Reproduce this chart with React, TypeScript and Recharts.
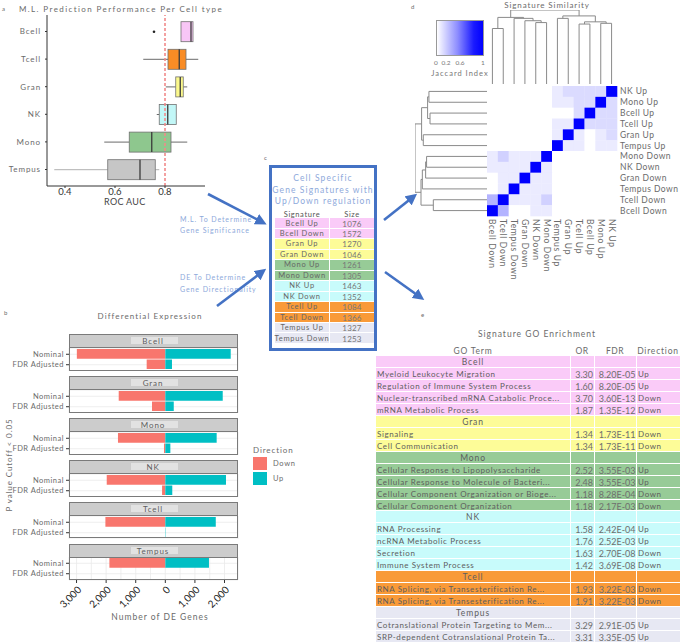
import React from "react";
import {
  ComposedChart,
  BarChart,
  Bar,
  XAxis,
  YAxis,
  CartesianGrid,
  ReferenceLine,
  ScatterChart,
  Scatter,
} from "recharts";

const FONT = "Lato, 'Noto Sans', sans-serif";
const INK = "#6b6b6b";
const BLUE = "#4472C4";
const PALE_BLUE = "#8EA9DB";

// ---------- a: ML prediction performance ----------
const aucCellTypes = ["Bcell", "Tcell", "Gran", "NK", "Mono", "Tempus"];
const aucWhiskerLow = [0.864, 0.713, 0.803, 0.767, 0.557, 0.357];
const aucQ1 = [0.864, 0.812, 0.843, 0.777, 0.657, 0.571];
const aucMedian = [0.904, 0.857, 0.861, 0.811, 0.747, 0.7];
const aucQ3 = [0.912, 0.884, 0.873, 0.845, 0.824, 0.761];
const aucWhiskerHigh = [0.912, 0.933, 0.889, 0.845, 0.889, 0.777];
const aucOutliers = [[0.756], [], [], [], [], []];
const aucBoxColors = ["#F8C6F6", "#F98C25", "#FCF98C", "#C2F7F7", "#8EC78E", "#C6C6C6"];
const aucTicks = [0.4, 0.6, 0.8];
const aucThreshold = 0.8;

// ---------- b: differential expression ----------
const deCellTypes = ["Bcell", "Gran", "Mono", "NK", "Tcell", "Tempus"];
const deCutoffs = ["Nominal", "FDR Adjusted"];
const deDownNominal = [2990, 1575, 1600, 1980, 2025, 1890];
const deUpNominal = [2210, 1940, 1735, 2050, 1705, 1475];
const deDownFdr = [630, 450, 45, 110, 0, 0];
const deUpFdr = [225, 285, 170, 235, 12, 0];
const deTicks = [-3000, -2500, -2000, -1500, -1000, -500, 0, 500, 1000, 1500, 2000];
const DOWN_COLOR = "#F8766D";
const UP_COLOR = "#00BFC4";

// ---------- c: signatures ----------
const signatures = [
  "Bcell Up", "Bcell Down", "Gran Up", "Gran Down", "Mono Up", "Mono Down",
  "NK Up", "NK Down", "Tcell Up", "Tcell Down", "Tempus Up", "Tempus Down",
];
const signatureSizes = [1076, 1572, 1270, 1046, 1261, 1305, 1463, 1352, 1084, 1366, 1327, 1253];
const tableColors: Record<string, string> = {
  Bcell: "#FACBF8",
  Gran: "#FDFC98",
  Mono: "#97CB97",
  NK: "#C8FBFB",
  Tcell: "#F99A38",
  Tempus: "#E7E8F3",
};

// ---------- d: signature similarity ----------
const heatRows = [
  "NK Up", "Mono Up", "Bcell Up", "Tcell Up", "Gran Up", "Tempus Up",
  "Mono Down", "NK Down", "Gran Down", "Tempus Down", "Tcell Down", "Bcell Down",
];
const heatCols = [
  "Bcell Down", "Tcell Down", "Tempus Down", "Gran Down", "NK Down", "Mono Down",
  "Tempus Up", "Gran Up", "Tcell Up", "Bcell Up", "Mono Up", "NK Up",
];
const jaccardPairs: [string, string, number][] = [
  ["Bcell Up", "Tcell Up", 0.14], ["Bcell Up", "Mono Up", 0.14], ["Bcell Up", "NK Up", 0.14],
  ["Gran Up", "Mono Up", 0.08], ["Gran Up", "NK Up", 0.14], ["Gran Up", "Tcell Up", 0.08],
  ["Gran Up", "Tempus Up", 0.08], ["Mono Up", "NK Up", 0.14], ["Mono Up", "Tcell Up", 0.14],
  ["Mono Up", "Tempus Up", 0.08], ["NK Up", "Tcell Up", 0.14], ["NK Up", "Tempus Up", 0.08],
  ["Tcell Up", "Tempus Up", 0.08],
  ["Bcell Down", "Tcell Down", 0.3], ["Bcell Down", "Mono Down", 0.08], ["Bcell Down", "NK Down", 0.08],
  ["Gran Down", "Mono Down", 0.08], ["Gran Down", "NK Down", 0.08], ["Gran Down", "Tcell Down", 0.08],
  ["Gran Down", "Tempus Down", 0.08], ["Mono Down", "NK Down", 0.08], ["Mono Down", "Tcell Down", 0.18],
  ["Mono Down", "Tempus Down", 0.08], ["NK Down", "Tcell Down", 0.08], ["NK Down", "Tempus Down", 0.08],
  ["Tcell Down", "Tempus Down", 0.08],
];
// dendrogram merges: children are leaf names or earlier merge ids
type Merge = { id: string; a: string; b: string; h: number };
const colMerges: Merge[] = [
  { id: "c1", a: "Bcell Down", b: "Tcell Down", h: 0.75 },
  { id: "c2", a: "NK Down", b: "Mono Down", h: 0.83 },
  { id: "c3", a: "Gran Down", b: "c2", h: 0.855 },
  { id: "c4", a: "Tempus Down", b: "c3", h: 0.887 },
  { id: "c5", a: "c1", b: "c4", h: 0.9 },
  { id: "c6", a: "Tempus Up", b: "Gran Up", h: 0.887 },
  { id: "c7", a: "Tcell Up", b: "Bcell Up", h: 0.81 },
  { id: "c8", a: "Mono Up", b: "NK Up", h: 0.82 },
  { id: "c9", a: "c7", b: "c8", h: 0.84 },
  { id: "c10", a: "c6", b: "c9", h: 0.92 },
  { id: "c11", a: "c5", b: "c10", h: 1 },
];
const rowMerges: Merge[] = [
  { id: "r1", a: "NK Up", b: "Mono Up", h: 0.81 },
  { id: "r2", a: "Bcell Up", b: "Tcell Up", h: 0.795 },
  { id: "r3", a: "r1", b: "r2", h: 0.828 },
  { id: "r4", a: "Gran Up", b: "Tempus Up", h: 0.887 },
  { id: "r5", a: "r3", b: "r4", h: 0.91 },
  { id: "r6", a: "Mono Down", b: "NK Down", h: 0.842 },
  { id: "r7", a: "r6", b: "Gran Down", h: 0.855 },
  { id: "r8", a: "r7", b: "Tempus Down", h: 0.9 },
  { id: "r9", a: "Tcell Down", b: "Bcell Down", h: 0.75 },
  { id: "r10", a: "r8", b: "r9", h: 0.918 },
  { id: "r11", a: "r5", b: "r10", h: 1 },
];

// ---------- e: GO enrichment ----------
const goGroups = ["Bcell", "Gran", "Mono", "NK", "Tcell", "Tempus"];
const goTermGroup = [
  "Bcell", "Bcell", "Bcell", "Bcell", "Gran", "Gran", "Mono", "Mono", "Mono", "Mono",
  "NK", "NK", "NK", "NK", "Tcell", "Tcell", "Tempus", "Tempus",
];
const goTerms = [
  "Myeloid Leukocyte Migration",
  "Regulation of Immune System Process",
  "Nuclear-transcribed mRNA Catabolic Proce...",
  "mRNA Metabolic Process",
  "Signaling",
  "Cell Communication",
  "Cellular Response to Lipopolysaccharide",
  "Cellular Response to Molecule of Bacteri...",
  "Cellular Component Organization or Bioge...",
  "Cellular Component Organization",
  "RNA Processing",
  "ncRNA Metabolic Process",
  "Secretion",
  "Immune System Process",
  "RNA Splicing, via Transesterification Re...",
  "RNA Splicing, via Transesterification Re...",
  "Cotranslational Protein Targeting to Mem...",
  "SRP-dependent Cotranslational Protein Ta...",
];
const goOddsRatio = [3.3, 1.6, 3.7, 1.87, 1.34, 1.34, 2.52, 2.48, 1.18, 1.18, 1.58, 1.76, 1.63, 1.42, 1.93, 1.91, 3.29, 3.31];
const goFdr = [8.2e-5, 8.2e-5, 3.6e-13, 1.35e-12, 1.73e-11, 1.73e-11, 3.55e-3, 3.55e-3, 8.28e-4, 2.17e-3, 2.42e-4, 2.52e-3, 2.7e-8, 3.69e-8, 3.22e-3, 3.22e-3, 2.91e-5, 3.35e-5];
const goDirection = ["Up", "Up", "Down", "Down", "Down", "Down", "Up", "Up", "Down", "Down", "Up", "Up", "Down", "Down", "Down", "Down", "Up", "Up"];

// ---------- helpers ----------
type LabelProps = {
  x: number; y: number; text: string; size?: number; align?: "left" | "center" | "right";
  color?: string; spacing?: number; rotate?: number; family?: string;
};
function Label({ x, y, text, size = 8, align = "left", color = INK, spacing = 0.5, rotate = 0, family = FONT }: LabelProps) {
  const tx = align === "center" ? "-50%" : align === "right" ? "-100%" : "0%";
  return (
    <div
      style={{
        position: "absolute", left: x, top: y,
        transform: `translate(${tx}, -50%)` + (rotate ? ` rotate(${rotate}deg)` : ""),
        fontSize: size, lineHeight: 1, whiteSpace: "nowrap", color, letterSpacing: spacing, fontFamily: family,
      }}
    >
      {text}
    </div>
  );
}

const fmtE = (v: number) => {
  const [m, e] = v.toExponential(2).split("e");
  const n = Number(e);
  return `${m.toUpperCase()}E${n < 0 ? "-" : "+"}${String(Math.abs(n)).padStart(2, "0")}`;
};

const cellOf = (sig: string) => sig.split(" ")[0];

// plain one-line tick text (recharts' own Text would wrap long labels)
function PlainTick(props: any) {
  const { x, y, payload, anchor, size, fmt, spacing = 0.6 } = props;
  return (
    <text
      x={x} y={y} dy="0.35em" textAnchor={anchor} fontSize={size} fill={INK} fontFamily={FONT} letterSpacing={spacing}
    >
      {fmt ? fmt(payload.value) : payload.value}
    </text>
  );
}

// ---------- panel a ----------
const aucData = aucCellTypes.map((name, i) => ({
  name,
  range: [aucWhiskerLow[i], aucWhiskerHigh[i]],
  q1: aucQ1[i],
  median: aucMedian[i],
  q3: aucQ3[i],
  outliers: aucOutliers[i],
  color: aucBoxColors[i],
}));

function AucBox(props: any) {
  const { x, y, width, height, payload } = props;
  if (x == null || !payload) return <g />;
  const [lo, hi] = payload.range;
  const px = (v: number) => x + ((v - lo) / (hi - lo)) * width;
  const cy = y + height / 2;
  const q1 = px(payload.q1);
  const q3 = px(payload.q3);
  const md = px(payload.median);
  const whisker = payload.name === "Tempus" ? "#a8a8a8" : "#5a5a5a";
  return (
    <g>
      <line x1={px(lo)} x2={q1} y1={cy} y2={cy} stroke={whisker} strokeWidth={0.9} />
      <line x1={q3} x2={px(hi)} y1={cy} y2={cy} stroke={whisker} strokeWidth={0.9} />
      <rect x={Math.min(q1, q3)} y={y} width={Math.abs(q3 - q1)} height={height} fill={payload.color} stroke="#707070" strokeWidth={0.8} />
      <line x1={md} x2={md} y1={y} y2={y + height} stroke="#3a3a3a" strokeWidth={1.3} />
      {payload.outliers.map((o: number, k: number) => (
        <circle key={k} cx={px(o)} cy={cy} r={1.3} fill="#222" />
      ))}
    </g>
  );
}

function PanelA() {
  return (
    <>
      <Label x={2} y={9} text="a" size={6} />
      <Label x={19} y={9} text="M.L. Prediction Performance Per Cell type" size={8} spacing={1.4} />
      <div style={{ position: "absolute", left: 0, top: 0 }}>
        <ComposedChart layout="vertical" width={215} height={210} data={aucData} margin={{ top: 15, right: 10, bottom: 0, left: 0 }}>
          <XAxis
            type="number" domain={[0.328, 0.96]} ticks={aucTicks} allowDataOverflow height={24}
            tickSize={2} tickMargin={0} axisLine={{ stroke: "#333" }} tickLine={{ stroke: "#333" }}
            tick={{ fontSize: 9.5, fill: "#333", fontFamily: FONT }}
          />
          <YAxis
            type="category" dataKey="name" width={47} padding={{ top: 2.7, bottom: 2.7 }}
            tickSize={2} tickMargin={4} axisLine={{ stroke: "#333" }} tickLine={{ stroke: "#333" }}
            tick={<PlainTick anchor="end" size={8} spacing={0.9} />} interval={0}
          />
          <ReferenceLine x={aucThreshold} stroke="#F08A8A" strokeWidth={1.6} strokeDasharray="3 2" />
          <Bar dataKey="range" barSize={20} shape={<AucBox />} isAnimationActive={false} />
        </ComposedChart>
      </div>
      <Label x={104} y={201} text="ROC AUC" size={9} color="#444" spacing={0.3} />
    </>
  );
}

// ---------- panel b ----------
const B_TOP = 334;
const B_PERIOD = 41.95;
const STRIP_H = 13.7;
const PLOT_H = 23;

function DeTick(props: any) {
  const { x, y, payload } = props;
  if (payload.value % 1000 !== 0) return <g />;
  const label = Math.abs(payload.value).toLocaleString("en-US");
  return (
    <g>
      <line x1={x} x2={x} y1={y} y2={y + 3} stroke="#333" />
      <text
        x={x + 3} y={y + 8} dy="0.35em" textAnchor="end" fontSize={10} fill="#222" fontFamily={FONT}
        transform={`rotate(-45, ${x + 3}, ${y + 8})`}
      >
        {label}
      </text>
    </g>
  );
}

function DeFacet({ idx }: { idx: number }) {
  const last = idx === deCellTypes.length - 1;
  const top = B_TOP + idx * B_PERIOD;
  const data = [
    { cutoff: deCutoffs[0], Down: -deDownNominal[idx], Up: deUpNominal[idx] },
    { cutoff: deCutoffs[1], Down: -deDownFdr[idx], Up: deUpFdr[idx] },
  ];
  return (
    <>
      <div style={{ position: "absolute", left: 69, top, width: 169, height: STRIP_H, background: "#CCCCCC" }} />
      <div style={{ position: "absolute", left: 131, top: top + 3.4, width: 47, height: 7, background: "#E2E2E2" }} />
      <Label x={153} y={top + STRIP_H / 2 + 0.5} text={deCellTypes[idx]} size={8} align="center" spacing={0.9} color="#5e5e5e" />
      <div style={{ position: "absolute", left: 0, top: top + STRIP_H }}>
        <BarChart
          layout="vertical" width={240} height={PLOT_H + (last ? 36 : 0)} data={data} stackOffset="sign"
          margin={{ top: 0, right: 2, bottom: 0, left: 0 }}
        >
          <CartesianGrid stroke="#EAEAEA" strokeWidth={0.8} />
          <XAxis
            type="number" domain={[-3255, 2456]} ticks={deTicks} allowDataOverflow interval={0}
            height={last ? 36 : 0} axisLine={false} tickLine={false} tickSize={0} tickMargin={0}
            tick={last ? <DeTick /> : false}
          />
          <YAxis
            type="category" dataKey="cutoff" width={69} padding={{ top: 1.05, bottom: 1.05 }} interval={0}
            axisLine={false} tickSize={3} tickMargin={2} tickLine={{ stroke: "#333" }}
            tick={<PlainTick anchor="end" size={7.5} spacing={0.5} />}
          />
          <Bar dataKey="Down" stackId="dir" fill={DOWN_COLOR} barSize={9.6} isAnimationActive={false} />
          <Bar dataKey="Up" stackId="dir" fill={UP_COLOR} barSize={9.6} isAnimationActive={false} />
        </BarChart>
      </div>
      <div
        style={{
          position: "absolute", left: 69, top, width: 169, height: STRIP_H + PLOT_H,
          border: "1px solid #7a7a7a", boxSizing: "border-box",
        }}
      />
      <div style={{ position: "absolute", left: 69, top: top + STRIP_H - 0.5, width: 169, height: 1, background: "#7a7a7a" }} />
    </>
  );
}

function PanelB() {
  return (
    <>
      <Label x={4} y={313} text="b" size={6} />
      <Label x={150} y={316} text="Differential Expression" size={8} align="center" spacing={1.1} />
      {deCellTypes.map((_, i) => (
        <DeFacet key={i} idx={i} />
      ))}
      <Label x={9} y={465} text="P value Cutoff < 0.05" size={8} align="center" rotate={-90} spacing={0.9} />
      <Label x={160} y={617} text="Number of DE Genes" size={8.5} align="center" spacing={1} />
      <Label x={253} y={450} text="Direction" size={8} spacing={0.9} />
      <div style={{ position: "absolute", left: 253, top: 456.5, width: 14, height: 13.5, background: DOWN_COLOR }} />
      <div style={{ position: "absolute", left: 253, top: 471.5, width: 14, height: 13.5, background: UP_COLOR }} />
      <Label x={273} y={464} text="Down" size={7.5} spacing={0.7} />
      <Label x={273} y={479} text="Up" size={7.5} spacing={0.7} />
    </>
  );
}

// ---------- panel c ----------
function PanelC() {
  const rowTop = 218.3;
  const rowH = 10.47;
  return (
    <>
      <Label x={264} y={158} text="c" size={6} />
      <div
        style={{
          position: "absolute", left: 269, top: 165, width: 108, height: 186,
          border: `3px solid ${BLUE}`, boxSizing: "border-box", background: "#fff",
        }}
      />
      <Label x={323} y={178} text="Cell Specific" size={8.5} align="center" color={PALE_BLUE} spacing={1.1} />
      <Label x={323} y={189.5} text="Gene Signatures with" size={8.5} align="center" color={PALE_BLUE} spacing={1.1} />
      <Label x={323} y={201} text="Up/Down regulation" size={8.5} align="center" color={PALE_BLUE} spacing={1.1} />
      <Label x={302} y={214.5} text="Signature" size={7.5} align="center" spacing={0.6} color="#555" />
      <Label x={352} y={214.5} text="Size" size={7.5} align="center" spacing={0.6} color="#555" />
      {signatures.map((sig, i) => {
        const top = rowTop + i * rowH;
        const bg = tableColors[cellOf(sig)];
        return (
          <React.Fragment key={sig}>
            <div style={{ position: "absolute", left: 275, top, width: 54, height: rowH - 1, background: bg }} />
            <div style={{ position: "absolute", left: 330, top, width: 43.5, height: rowH - 1, background: bg }} />
            <Label x={302} y={top + rowH / 2} text={sig} size={7.5} align="center" spacing={0.7} color="#666" />
            <Label x={352} y={top + rowH / 2} text={String(signatureSizes[i])} size={8} align="center" spacing={0.2} color="#777" />
          </React.Fragment>
        );
      })}
      <Label x={180} y={218.5} text="M.L. To Determine" size={7} color={PALE_BLUE} spacing={0.9} />
      <Label x={180} y={229.5} text="Gene Significance" size={7} color={PALE_BLUE} spacing={0.9} />
      <Label x={180} y={277} text="DE To Determine" size={7} color={PALE_BLUE} spacing={0.9} />
      <Label x={180} y={288.5} text="Gene Directionality" size={7} color={PALE_BLUE} spacing={0.9} />
    </>
  );
}

// ---------- panel d ----------
const jaccardValue = (a: string, b: string) => {
  if (a === b) return 1;
  const hit = jaccardPairs.find(([p, q]) => (p === a && q === b) || (p === b && q === a));
  return hit ? hit[2] : 0;
};
const heatCells = heatRows.flatMap((r, ri) => heatCols.map((c, ci) => ({ x: ci, y: ri, v: jaccardValue(r, c) })));
const heatColor = (v: number) => {
  const c = Math.round(255 * (1 - v));
  return `rgb(${c},${c},255)`;
};
const HEAT = 130;
const CELL = HEAT / 12;

function HeatCell(props: any) {
  const { cx, cy, payload } = props;
  if (cx == null) return <g />;
  return <rect x={cx - CELL / 2} y={cy - CELL / 2} width={CELL + 0.3} height={CELL + 0.3} fill={heatColor(payload.v)} />;
}

function ColTick(props: any) {
  const { x, y, payload } = props;
  return (
    <text
      x={x} y={y} dy="0.35em" textAnchor="start" fontSize={8.5} fill={INK} fontFamily={FONT} letterSpacing={0.7}
      transform={`rotate(90, ${x}, ${y})`}
    >
      {heatCols[payload.value]}
    </text>
  );
}

function dendroSegments(order: string[], merges: Merge[]) {
  const pos: Record<string, number> = {};
  const hgt: Record<string, number> = {};
  order.forEach((n, i) => {
    pos[n] = i;
    hgt[n] = 0;
  });
  const segs: { p: number; h: number; p2: number; h2: number }[] = [];
  merges.forEach((m) => {
    pos[m.id] = (pos[m.a] + pos[m.b]) / 2;
    hgt[m.id] = m.h;
    segs.push({ p: pos[m.a], h: m.h, p2: pos[m.b], h2: m.h });
    segs.push({ p: pos[m.a], h: hgt[m.a], p2: pos[m.a], h2: m.h });
    segs.push({ p: pos[m.b], h: hgt[m.b], p2: pos[m.b], h2: m.h });
  });
  return segs;
}
const colSegments = dendroSegments(heatCols, colMerges);
const rowSegments = dendroSegments(heatRows, rowMerges);
const DENDRO = "#8a8a8a";

function PanelD() {
  return (
    <>
      <Label x={411} y={7} text="d" size={6} />
      <Label x={547} y={5} text="Signature Similarity" size={8} align="center" spacing={0.9} />
      <div
        style={{
          position: "absolute", left: 436, top: 20, width: 48, height: 36,
          background: "linear-gradient(to right, #ffffff, #8c8cff 45%, #1a1aff 80%, #0000ff)",
          border: "0.5px solid #999", boxSizing: "border-box",
        }}
      />
      <Label x={436} y={63} text="0" size={6.5} align="center" spacing={0} color="#777" />
      <Label x={446} y={63} text="0.2" size={6.5} align="center" spacing={0} color="#777" />
      <Label x={460} y={63} text="0.6" size={6.5} align="center" spacing={0} color="#777" />
      <Label x={483} y={63} text="1" size={6.5} align="center" spacing={0} color="#777" />
      <Label x={460} y={74} text="Jaccard Index" size={7.5} align="center" spacing={1} color="#777" />

      <div style={{ position: "absolute", left: 487.3, top: 10 }}>
        <ScatterChart width={HEAT} height={74} margin={{ top: 0, right: 0, bottom: 0, left: 0 }}>
          <XAxis type="number" dataKey="x" domain={[-0.5, 11.5]} hide />
          <YAxis type="number" dataKey="y" domain={[0, 1]} hide />
          <Scatter data={heatCols.map((_, i) => ({ x: i, y: 0 }))} shape={() => <g />} isAnimationActive={false} />
          {colSegments.map((s, i) => (
            <ReferenceLine key={i} segment={[{ x: s.p, y: s.h }, { x: s.p2, y: s.h2 }]} stroke={DENDRO} strokeWidth={1} ifOverflow="visible" />
          ))}
        </ScatterChart>
      </div>

      <div style={{ position: "absolute", left: 414.7, top: 86 }}>
        <ScatterChart width={73.3} height={HEAT} margin={{ top: 0, right: 0, bottom: 0, left: 0 }}>
          <XAxis type="number" dataKey="x" domain={[0, 1]} reversed hide />
          <YAxis type="number" dataKey="y" domain={[-0.5, 11.5]} reversed hide />
          <Scatter data={heatRows.map((_, i) => ({ x: 0, y: i }))} shape={() => <g />} isAnimationActive={false} />
          {rowSegments.map((s, i) => (
            <ReferenceLine key={i} segment={[{ x: s.h, y: s.p }, { x: s.h2, y: s.p2 }]} stroke={DENDRO} strokeWidth={1} ifOverflow="visible" />
          ))}
        </ScatterChart>
      </div>

      <div style={{ position: "absolute", left: 487.3, top: 86 }}>
        <ScatterChart width={HEAT + 64} height={HEAT + 68} margin={{ top: 0, right: 0, bottom: 0, left: 0 }}>
          <XAxis
            type="number" dataKey="x" domain={[-0.5, 11.5]} ticks={heatCols.map((_, i) => i)} interval={0}
            height={68} axisLine={false} tickLine={false} tickSize={0} tickMargin={3} tick={<ColTick />}
          />
          <YAxis
            type="number" dataKey="y" orientation="right" domain={[-0.5, 11.5]} reversed
            ticks={heatRows.map((_, i) => i)} interval={0} width={64} axisLine={false} tickLine={false}
            tickSize={0} tickMargin={3}
            tick={<PlainTick anchor="start" size={8.5} spacing={0.45} fmt={(v: number) => heatRows[v]} />}
          />
          <Scatter data={heatCells} shape={<HeatCell />} isAnimationActive={false} />
        </ScatterChart>
      </div>
    </>
  );
}

// ---------- panel e ----------
function PanelE() {
  const top0 = 356;
  const rowH = 11.96;
  const rows: { kind: "group" | "term"; group: string; idx: number }[] = [];
  goGroups.forEach((g) => {
    rows.push({ kind: "group", group: g, idx: -1 });
    goTermGroup.forEach((tg, i) => {
      if (tg === g) rows.push({ kind: "term", group: g, idx: i });
    });
  });
  const colLeft = [376, 571, 594.5, 637];
  const colRight = [570, 593.5, 636, 680];
  return (
    <>
      <Label x={421} y={315} text="e" size={6} />
      <Label x={537} y={334} text="Signature GO Enrichment" size={8.5} align="center" spacing={1} />
      <Label x={473} y={350.5} text="GO Term" size={8.5} align="center" spacing={0.8} />
      <Label x={582} y={350.5} text="OR" size={8.5} align="center" spacing={0.5} />
      <Label x={615} y={350.5} text="FDR" size={8.5} align="center" spacing={0.5} />
      <Label x={658} y={350.5} text="Direction" size={8.5} align="center" spacing={0.8} />
      <div style={{ position: "absolute", left: 376, top: top0, width: 304, height: 643 - top0, overflow: "hidden" }}>
        {rows.map((r, k) => {
          const top = k * rowH;
          const bg = tableColors[r.group];
          return (
            <React.Fragment key={k}>
              {colLeft.map((l, c) => (
                <div key={c} style={{ position: "absolute", left: l - 376, top, width: colRight[c] - l, height: rowH - 1, background: bg }} />
              ))}
              {r.kind === "group" ? (
                <Label x={97} y={top + rowH / 2} text={r.group} size={8.5} align="center" spacing={0.9} color="#5e5e5e" />
              ) : (
                <>
                  <Label x={1} y={top + rowH / 2} text={goTerms[r.idx]} size={8} spacing={0.6} color="#5e5e5e" />
                  <Label x={217} y={top + rowH / 2} text={goOddsRatio[r.idx].toFixed(2)} size={9} align="right" spacing={0} color="#6e6e6e" />
                  <Label x={259.5} y={top + rowH / 2} text={fmtE(goFdr[r.idx])} size={9} align="right" spacing={0} color="#6e6e6e" />
                  <Label x={262} y={top + rowH / 2} text={goDirection[r.idx]} size={8} spacing={0.6} color="#5e5e5e" />
                </>
              )}
            </React.Fragment>
          );
        })}
      </div>
    </>
  );
}

// ---------- arrows ----------
const arrowPaths = [
  [208, 194, 262, 222],
  [217, 306, 262, 272],
  [384, 220, 413, 197],
  [385, 272, 420, 297],
];

function Arrows() {
  return (
    <svg width={680} height={643} style={{ position: "absolute", left: 0, top: 0, pointerEvents: "none" }}>
      <defs>
        <marker id="head" markerWidth="4.4" markerHeight="4.4" refX="2.4" refY="2.2" orient="auto" markerUnits="strokeWidth">
          <path d="M0,0 L4.4,2.2 L0,4.4 z" fill={BLUE} />
        </marker>
      </defs>
      {arrowPaths.map(([x1, y1, x2, y2], i) => (
        <line key={i} x1={x1} y1={y1} x2={x2} y2={y2} stroke={BLUE} strokeWidth={2.6} markerEnd="url(#head)" />
      ))}
    </svg>
  );
}

export default function App() {
  return (
    <div
      style={{
        position: "absolute", left: 0, top: 0, width: 680, height: 643, background: "#fff",
        overflow: "hidden", fontFamily: FONT, color: INK,
      }}
    >
      <PanelA />
      <PanelB />
      <PanelC />
      <PanelD />
      <PanelE />
      <Arrows />
    </div>
  );
}
